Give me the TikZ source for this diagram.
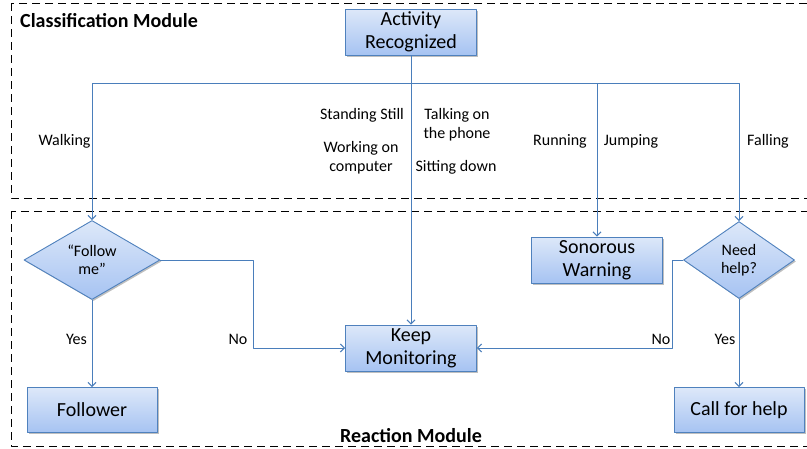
\documentclass[tikz,border=0pt]{standalone}
\usepackage{fontspec}
\setmainfont{Carlito}
\usepackage{tikz}
\definecolor{ink}{HTML}{000000}
\definecolor{edge}{HTML}{4F81BD}
\definecolor{wire}{HTML}{4A7EBB}
\definecolor{filltop}{HTML}{DDE8F9}
\definecolor{fillbot}{HTML}{A6C3F2}
\usetikzlibrary{
  arrows.meta,
  positioning,
  calc,
  shapes.geometric,
  shadows
}
\tikzset{
  every picture/.style={line join=round},
  every node/.style={text=ink},
  shade/.style={
    drop shadow={shadow xshift=1.5pt, shadow yshift=-1.5pt, opacity=0.25, fill=black}
  },
  block/.style={
    draw=edge,
    top color=filltop,
    bottom color=fillbot,
    line width=0.9pt,
    align=center,
    minimum height=46pt,
    minimum width=131pt,
    inner sep=1pt,
    font=\fontsize{20}{23}\selectfont,
    shade
  },
  decision/.style={
    diamond,
    draw=edge,
    top color=filltop,
    bottom color=fillbot,
    line width=0.9pt,
    align=center,
    minimum height=77pt,
    inner sep=0pt,
    font=\fontsize{16}{18}\selectfont,
    shade
  },
  flow/.style={-{Straight Barb[length=4pt, width=8pt]}, line width=1pt, draw=wire},
  module/.style={draw=ink, line width=1pt, dash pattern=on 8pt off 5pt},
  annot/.style={font=\fontsize{16}{19}\selectfont, align=center, inner sep=0pt},
  title/.style={font=\fontsize{20}{23}\selectfont\bfseries, inner sep=0pt}
}

\begin{document}
\begin{tikzpicture}[x=1pt, y=-1pt]
  \clip (0,0) rectangle (807,448);
  \fill[white] (0,0) rectangle (807,448);

  % Module frames (right side runs off the page)
  \draw[module] (11,3) rectangle (812,198);
  \draw[module] (11,211) rectangle (812,446);
  \node[title, anchor=west] (clsname) at (20,21) {Classification Module};
  \node[title] (reaname) at (411,436) {Reaction Module};

  % Boxes
  \node[block] (act) at (411,32) {Activity\\Recognized};
  \node[block] (keep) at (411,348) {Keep\\Monitoring};
  \node[block] (sonor) at (597,260) {Sonorous\\Warning};
  \node[block, minimum width=130pt, minimum height=45pt] (follower) at (92,410) {Follower};
  \node[block, minimum width=130pt, minimum height=45pt] (callhelp) at (739,410) {Call for help};
  \node[decision, minimum width=136pt] (follow) at (92,260) {“Follow\\me”};
  \node[decision, minimum width=111pt] (need) at (739,260) {Need\\help?};

  % Branches of the recognized activity
  \coordinate (split) at (411,83);
  \draw[flow] (act.south) -- (keep.north);
  \draw[flow] (split) -| (follow.north);
  \draw[flow] (split) -| (need.north);
  \draw[flow] (sonor.north |- split) -- (sonor.north);

  \node[annot] (walk) at (64.5,141) {Walking};
  \node[annot] (stand) at (362,115) {Standing Still};
  \node[annot] (work) at (361,157.5) {Working on\\computer};
  \node[annot] (talk) at (457,124.5) {Talking on\\the phone};
  \node[annot] (sit) at (456,167) {Sitting down};
  \node[annot] (run) at (560,141) {Running};
  \node[annot] (jump) at (631,141) {Jumping};
  \node[annot] (fall) at (768,141) {Falling};

  % Reactions
  \draw[flow] (follow.south) -- (follower.north);
  \draw[flow] (follow.east) -- ++(93,0) |- (keep.west);
  \draw[flow] (need.south) -- (callhelp.north);
  \draw[flow] (need.west) -- ++(-11,0) |- (keep.east);

  \node[annot] (yesl) at (76.5,339) {Yes};
  \node[annot] (nol) at (238,339) {No};
  \node[annot] (nor) at (661,339) {No};
  \node[annot] (yesr) at (725,339) {Yes};
\end{tikzpicture}
\end{document}
